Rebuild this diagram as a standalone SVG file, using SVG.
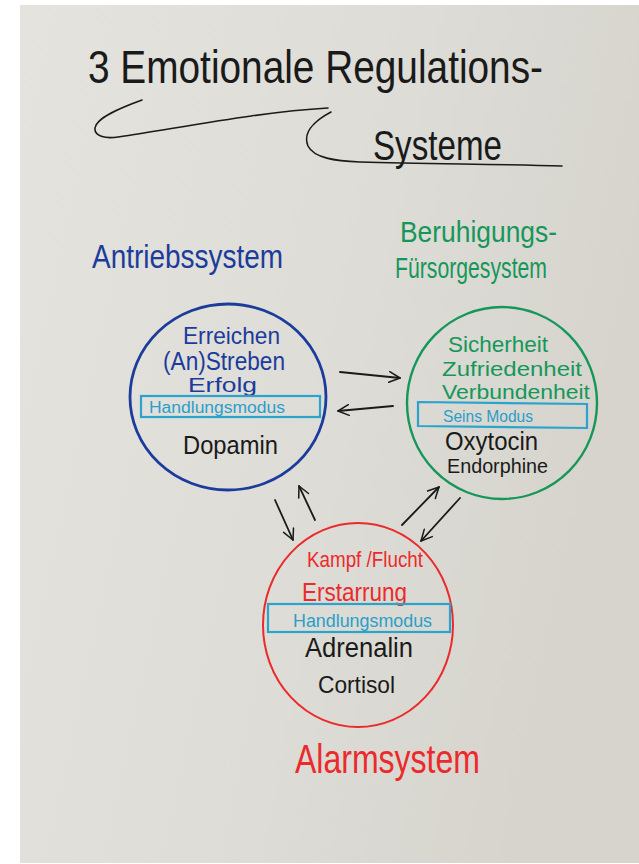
<svg xmlns="http://www.w3.org/2000/svg" width="639" height="864" viewBox="0 0 639 864">
  <defs>
    <linearGradient id="paper" x1="0" y1="0" x2="1" y2="0.3">
      <stop offset="0" stop-color="#e4e3de"/>
      <stop offset="0.6" stop-color="#dddcd6"/>
      <stop offset="1" stop-color="#d6d4cd"/>
    </linearGradient>
    <marker id="head" viewBox="0 0 12 12" refX="11" refY="6" markerWidth="13" markerHeight="13" markerUnits="userSpaceOnUse" orient="auto">
      <path d="M1,1 L11,6 L1,11" fill="none" stroke="#1a1a1a" stroke-width="1.4" stroke-linecap="round" stroke-linejoin="round"/>
    </marker>
    <style>
      text { font-family: "Liberation Sans", "DejaVu Sans", sans-serif; }
      .ink { fill: #1a1a1a; }
      .blue { fill: #1c3c9c; }
      .green { fill: #16975a; }
      .red { fill: #ec2a2c; }
      .cyan { fill: #2a9fcb; }
      .ring { fill: none; }
      .box { fill: none; stroke: #2aa3cd; stroke-width: 2.2; }
      .swoosh { fill: none; stroke: #1a1a1a; stroke-width: 1.6; stroke-linecap: round; }
      .arrow { fill: none; stroke: #1a1a1a; stroke-width: 1.8; stroke-linecap: round; marker-end: url(#head); }
    </style>
  </defs>

  <!-- background and flipchart sheet -->
  <rect x="0" y="0" width="639" height="864" fill="#ffffff"/>
  <rect x="20" y="5" width="619" height="858" fill="url(#paper)"/>

  <!-- heading -->
  <g id="title">
    <text class="ink" x="88" y="83" font-size="46" textLength="455" lengthAdjust="spacingAndGlyphs">3 Emotionale Regulations-</text>
    <text class="ink" x="373" y="160" font-size="42" textLength="129" lengthAdjust="spacingAndGlyphs">Systeme</text>
    <path class="swoosh" d="M142,100 C120,108 96,118 95,128 C94,136 105,139 118,137 C190,126 260,112 328,108"/>
    <path class="swoosh" d="M331,112 C312,122 303,134 308,146 C314,158 335,161 360,162 C430,164 500,164 562,166"/>
  </g>

  <!-- Antriebssystem -->
  <g id="antrieb">
    <text class="blue" x="92" y="268" font-size="34" textLength="191" lengthAdjust="spacingAndGlyphs">Antriebssystem</text>
    <ellipse class="ring" cx="228" cy="397" rx="98" ry="93" stroke="#1c3c9c" stroke-width="2.8"/>
    <text class="blue" x="183" y="344" font-size="24" textLength="97" lengthAdjust="spacingAndGlyphs">Erreichen</text>
    <text class="blue" x="163" y="370" font-size="25" textLength="122" lengthAdjust="spacingAndGlyphs">(An)Streben</text>
    <text class="blue" x="188" y="392" font-size="21" textLength="69" lengthAdjust="spacingAndGlyphs">Erfolg</text>
    <rect class="box" x="141" y="396" width="179" height="21"/>
    <text class="cyan" x="149" y="413" font-size="16" textLength="136" lengthAdjust="spacingAndGlyphs">Handlungsmodus</text>
    <text class="ink" x="183" y="454" font-size="25" textLength="95" lengthAdjust="spacingAndGlyphs">Dopamin</text>
  </g>

  <!-- Beruhigungs-/Fürsorgesystem -->
  <g id="beruhigung">
    <text class="green" x="400" y="242" font-size="30" textLength="157" lengthAdjust="spacingAndGlyphs">Beruhigungs-</text>
    <text class="green" x="395" y="278" font-size="30" textLength="152" lengthAdjust="spacingAndGlyphs">Fürsorgesystem</text>
    <ellipse class="ring" cx="502" cy="403" rx="95" ry="96" stroke="#16975a" stroke-width="2.4"/>
    <text class="green" x="448" y="352" font-size="22" textLength="100" lengthAdjust="spacingAndGlyphs">Sicherheit</text>
    <text class="green" x="442" y="376" font-size="20" textLength="140" lengthAdjust="spacingAndGlyphs">Zufriedenheit</text>
    <text class="green" x="442" y="399" font-size="20" textLength="148" lengthAdjust="spacingAndGlyphs">Verbundenheit</text>
    <path class="box" d="M418,402 L587,404 L587,428 L418,426 Z"/>
    <text class="cyan" x="443" y="422" font-size="17" textLength="90" lengthAdjust="spacingAndGlyphs">Seins Modus</text>
    <text class="ink" x="445" y="450" font-size="25" textLength="93" lengthAdjust="spacingAndGlyphs">Oxytocin</text>
    <text class="ink" x="447" y="473" font-size="20" textLength="101" lengthAdjust="spacingAndGlyphs">Endorphine</text>
  </g>

  <!-- Alarmsystem -->
  <g id="alarm">
    <ellipse class="ring" cx="358" cy="625" rx="95" ry="102" stroke="#ec2a2c" stroke-width="2"/>
    <text class="red" x="307" y="567" font-size="22" textLength="116" lengthAdjust="spacingAndGlyphs">Kampf /Flucht</text>
    <text class="red" x="302" y="601" font-size="25" textLength="105" lengthAdjust="spacingAndGlyphs">Erstarrung</text>
    <rect class="box" x="268" y="604" width="182" height="28"/>
    <text class="cyan" x="293" y="627" font-size="18" textLength="139" lengthAdjust="spacingAndGlyphs">Handlungsmodus</text>
    <text class="ink" x="305" y="657" font-size="27" textLength="108" lengthAdjust="spacingAndGlyphs">Adrenalin</text>
    <text class="ink" x="318" y="693" font-size="24" textLength="77" lengthAdjust="spacingAndGlyphs">Cortisol</text>
    <text class="red" x="295" y="773" font-size="40" textLength="185" lengthAdjust="spacingAndGlyphs">Alarmsystem</text>
  </g>

  <!-- connectors between the three systems -->
  <g id="connectors">
    <path class="arrow" d="M340,372 L400,378"/>
    <path class="arrow" d="M393,406 L338,411"/>
    <path class="arrow" d="M275,500 L293,540"/>
    <path class="arrow" d="M315,520 L299,486"/>
    <path class="arrow" d="M402,525 L439,487"/>
    <path class="arrow" d="M460,498 L421,541"/>
  </g>
</svg>
